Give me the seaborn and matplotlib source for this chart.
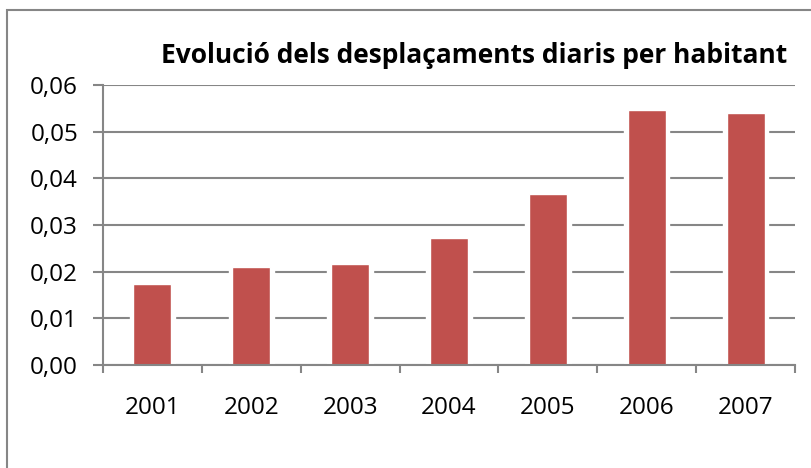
import matplotlib
matplotlib.use("Agg")
import matplotlib.pyplot as plt
import seaborn as sns
import pandas as pd
from matplotlib.patches import Rectangle
from matplotlib.ticker import FuncFormatter, FixedLocator

years = ["2001", "2002", "2003", "2004", "2005", "2006", "2007"]
values = [0.0173, 0.0210, 0.0216, 0.0272, 0.0366, 0.0547, 0.0539]
yticks = [0.00, 0.01, 0.02, 0.03, 0.04, 0.05, 0.06]
title = "Evolució dels desplaçaments diaris per habitant"

df = pd.DataFrame({"year": years, "value": values})

sns.set_theme(style="white")
plt.rcParams['font.family'] = ['Open Sans', 'DejaVu Sans']

fig = plt.figure(figsize=(8.12, 4.68), dpi=100)
fig.patch.set_facecolor("white")
# outer chart border
fig.patches.append(Rectangle((7/812, -0.1), 1.2, 1 - 10/468 + 0.1, transform=fig.transFigure,
                             fill=False, edgecolor="#868686", linewidth=1.5))

ax = fig.add_axes([103/812, 1 - 365/468, (795 - 103)/812, (365 - 85)/468])
ax.set_facecolor("white")

# halo behind bars
sns.barplot(data=df, x="year", y="value", color="white", width=0.46, ax=ax,
            saturation=1, zorder=2)
sns.barplot(data=df, x="year", y="value", color="#C0504D", width=0.385, ax=ax,
            saturation=1, zorder=3)

ax.set_ylim(0, 0.06)
ax.set_xlim(-0.5, len(years) - 0.5)
ax.yaxis.set_major_locator(FixedLocator(yticks))
ax.yaxis.set_major_formatter(FuncFormatter(lambda v, p: f"{v:.2f}".replace(".", ",")))
ax.grid(axis="y", color="#868686", linewidth=1.5, zorder=1)
ax.set_axisbelow(True)

for s in ["top", "right"]:
    ax.spines[s].set_visible(False)
for s in ["left", "bottom"]:
    ax.spines[s].set_color("#868686")
    ax.spines[s].set_linewidth(1.5)
    ax.spines[s].set_zorder(4)

ax.set_xticks(range(len(years)))
ax.set_xticklabels(years)
ax.set_xticks([i - 0.5 for i in range(len(years) + 1)], minor=True)
ax.tick_params(axis="x", which="major", length=0, pad=22, labelsize=17.5, labelcolor="black")
ax.tick_params(axis="x", which="minor", length=6, width=1.5, color="#868686", direction="out", bottom=True)
ax.tick_params(axis="y", length=7, width=1.5, color="#868686", direction="out", left=True,
               pad=11, labelsize=17.5, labelcolor="black")
ax.set_xlabel("")
ax.set_ylabel("")

fig.text(474/812, 1 - 63/468, title, ha="center", va="baseline", fontsize=19,
         fontweight="bold", color="black")

fig.savefig("out.png", dpi=100)
